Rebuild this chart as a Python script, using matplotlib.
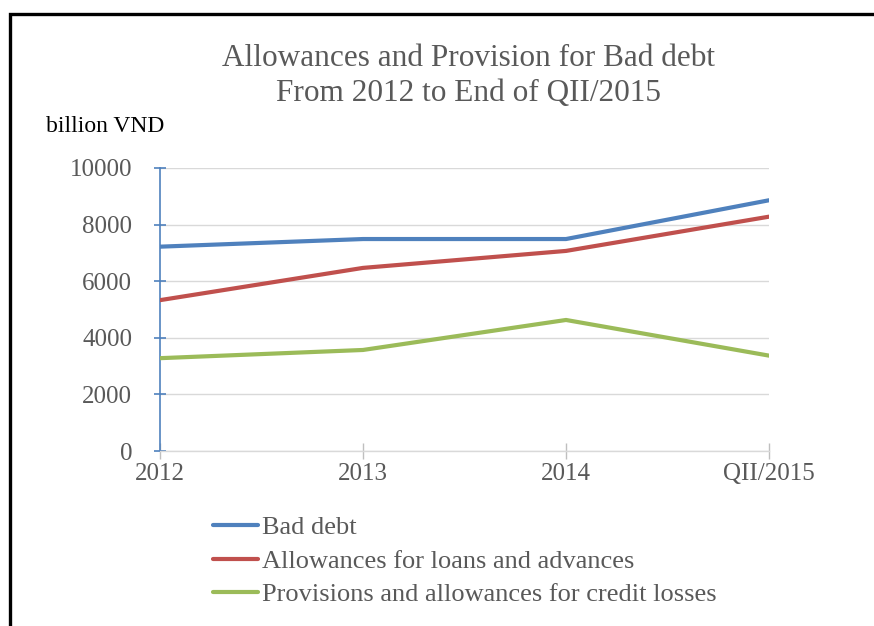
import matplotlib
matplotlib.use("Agg")
import matplotlib.pyplot as plt
from matplotlib.lines import Line2D

categories = ["2012", "2013", "2014", "QII/2015"]
bad_debt = [7220, 7490, 7490, 8860]
allowances_loans = [5330, 6470, 7070, 8280]
provisions_credit = [3280, 3570, 4630, 3370]
series_names = ["Bad debt", "Allowances for loans and advances",
                "Provisions and allowances for credit losses"]
y_ticks = [0, 2000, 4000, 6000, 8000, 10000]

plt.rcParams['font.family'] = ['Liberation Serif', 'DejaVu Serif']

W, H = 874, 626
fig = plt.figure(figsize=(W / 100, H / 100), dpi=100)
fig.patch.set_facecolor('white')

ax = fig.add_axes([160 / W, 1 - 451 / H, (769 - 160) / W, (451 - 168) / H])
x = list(range(len(categories)))
colors = ['#4F81BD', '#C0504D', '#9BBB59']
for vals, c, name in zip([bad_debt, allowances_loans, provisions_credit], colors, series_names):
    ax.plot(x, vals, color=c, lw=3.0, label=name, solid_capstyle='round', zorder=3)

ax.set_xlim(0, len(categories) - 1)
ax.set_ylim(0, 10000)
ax.set_yticks(y_ticks)
ax.set_xticks(x)
ax.set_xticklabels(categories)
ax.yaxis.grid(True, color='#D9D9D9', lw=1)
ax.set_axisbelow(True)
for s in ['top', 'right']:
    ax.spines[s].set_visible(False)
ax.spines['left'].set_color('#4F81BD')
ax.spines['left'].set_linewidth(1.2)
ax.spines['bottom'].set_color('#D9D9D9')
ax.spines['bottom'].set_linewidth(1)
ax.tick_params(axis='y', direction='inout', length=8, width=1.2, color='#4F81BD',
               labelsize=18, labelcolor='#595959', pad=16)
ax.tick_params(axis='x', direction='inout', length=11, width=1, color='#BFBFBF',
               labelsize=18, labelcolor='#595959', pad=3)

fig.text(468 / W, 1 - 58 / H, "Allowances and Provision for Bad debt", ha='center', va='center',
         fontsize=22.5, color='#595959')
fig.text(468 / W, 1 - 94 / H, "From 2012 to End of QII/2015", ha='center', va='center',
         fontsize=22.5, color='#595959')
fig.text(46 / W, 1 - 126 / H, "billion VND", ha='left', va='center', fontsize=17, color='black')

leg = fig.legend(loc='upper left', bbox_to_anchor=(213 / W, 1 - 516 / H), frameon=False,
                 fontsize=19, handlelength=1.7, handletextpad=0.15, labelspacing=0.38,
                 borderpad=0, borderaxespad=0)
for t in leg.get_texts():
    t.set_color('#595959')

border = Line2D([9.5 / W, 9.5 / W, 1.0], [0, 1 - 13.5 / H, 1 - 13.5 / H],
                transform=fig.transFigure, color='black', lw=2.4, solid_joinstyle='miter')
fig.add_artist(border)

fig.savefig("out.png", dpi=100)
